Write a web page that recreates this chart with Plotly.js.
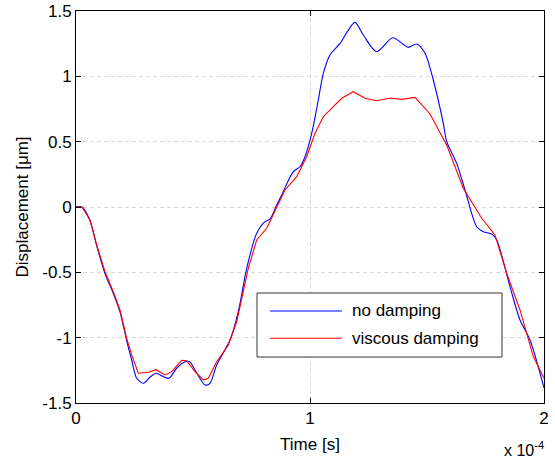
<!DOCTYPE html>
<html>
<head>
<meta charset="utf-8">
<script src="https://cdn.plot.ly/plotly-3.0.1.min.js"></script>
<style>
  html, body { margin: 0; padding: 0; background: #fff; }
  #chart { width: 555px; height: 461px; }
</style>
</head>
<body>
<div id="chart"></div>
<script>
// Time samples in units of 1e-5 s, displacement in micrometres
const tNoDamping = [0, 0.256, 0.598, 0.885, 1.239, 1.594, 1.880, 2.167, 2.380, 2.594, 2.876, 3.162, 3.419, 3.731, 3.974, 4.303, 4.658, 4.872, 5.085, 5.513, 5.726, 6.013, 6.581, 6.936, 7.295, 7.722, 8.077, 8.291, 8.577, 8.791, 9.286, 9.573, 9.786, 10.073, 10.355, 10.568, 10.855, 11.282, 11.637, 11.923, 12.278, 12.850, 13.534, 14.201, 14.560, 14.915, 15.269, 15.697, 15.842, 16.269, 16.624, 17.124, 17.406, 17.765, 17.979, 18.547, 18.974, 19.402, 20.0];
const yNoDamping = [0, 0, -0.103, -0.298, -0.509, -0.662, -0.803, -1.025, -1.171, -1.311, -1.349, -1.303, -1.272, -1.298, -1.311, -1.234, -1.184, -1.186, -1.247, -1.362, -1.349, -1.209, -1.018, -0.801, -0.469, -0.201, -0.112, -0.092, 0.015, 0.092, 0.270, 0.308, 0.385, 0.564, 0.819, 1.023, 1.163, 1.252, 1.354, 1.413, 1.316, 1.188, 1.295, 1.222, 1.247, 1.176, 0.972, 0.640, 0.500, 0.334, 0.130, -0.151, -0.189, -0.207, -0.252, -0.610, -0.865, -1.018, -1.385];

const tViscous = [0, 0.256, 0.598, 0.885, 1.239, 1.594, 1.880, 2.167, 2.380, 2.662, 3.090, 3.419, 3.803, 4.090, 4.517, 4.731, 5.085, 5.440, 5.654, 6.013, 6.509, 6.868, 7.363, 7.722, 8.150, 8.432, 8.932, 9.432, 9.859, 10.214, 10.568, 11.355, 11.850, 12.350, 12.850, 13.419, 13.919, 14.487, 15.128, 15.842, 16.551, 17.338, 17.906, 18.406, 18.974, 19.543, 20.0];
const yViscous = [0, 0, -0.099, -0.291, -0.495, -0.648, -0.788, -1.005, -1.132, -1.272, -1.265, -1.245, -1.285, -1.260, -1.173, -1.176, -1.260, -1.324, -1.311, -1.184, -1.056, -0.878, -0.469, -0.252, -0.163, -0.061, 0.130, 0.232, 0.385, 0.564, 0.691, 0.832, 0.882, 0.832, 0.813, 0.834, 0.824, 0.839, 0.712, 0.474, 0.143, -0.086, -0.214, -0.507, -0.788, -1.145, -1.311];

const seriesNames = ['no damping', 'viscous damping'];
const xTickVals = [0, 1e-4, 2e-4];
const xTickText = ['0', '1', '2'];
const yTickVals = [-1.5, -1, -0.5, 0, 0.5, 1, 1.5];
const yTickText = ['-1.5', '-1', '-0.5', '0', '0.5', '1', '1.5'];

const toSeconds = arr => arr.map(v => v * 1e-5);

const FONT = 'Liberation Sans, Arial, sans-serif';
const FS = 17;
const BLUE = '#0000ff';
const RED = '#ff0000';

const traces = [
  {
    x: toSeconds(tNoDamping), y: yNoDamping, name: seriesNames[0],
    type: 'scatter', mode: 'lines',
    line: { color: BLUE, width: 1.1, shape: 'spline', smoothing: 0.8 }
  },
  {
    x: toSeconds(tViscous), y: yViscous, name: seriesNames[1],
    type: 'scatter', mode: 'lines',
    line: { color: RED, width: 1.1 }
  }
];

// Legend box drawn in paper coordinates
const lg = { x0: 0.3868, x1: 0.9103, y0: 0.1173, y1: 0.2806, lineX0: 0.4145, lineX1: 0.5684, textX: 0.5855, rowY: [0.2347, 0.165] };

const shapes = [
  { type: 'rect', xref: 'paper', yref: 'paper', x0: lg.x0, x1: lg.x1, y0: lg.y0, y1: lg.y1,
    line: { color: '#333', width: 1 }, fillcolor: '#ffffff', layer: 'above' },
  { type: 'line', xref: 'paper', yref: 'paper', x0: lg.lineX0, x1: lg.lineX1, y0: lg.rowY[0], y1: lg.rowY[0],
    line: { color: BLUE, width: 1.1 }, layer: 'above' },
  { type: 'line', xref: 'paper', yref: 'paper', x0: lg.lineX0, x1: lg.lineX1, y0: lg.rowY[1], y1: lg.rowY[1],
    line: { color: RED, width: 1.1 }, layer: 'above' }
];

const annotations = [
  { xref: 'paper', yref: 'paper', x: lg.textX, y: lg.rowY[0], xanchor: 'left', yanchor: 'middle',
    text: seriesNames[0], showarrow: false, font: { family: FONT, size: FS, color: '#000' } },
  { xref: 'paper', yref: 'paper', x: lg.textX, y: lg.rowY[1], xanchor: 'left', yanchor: 'middle',
    text: seriesNames[1], showarrow: false, font: { family: FONT, size: FS, color: '#000' } },
  { xref: 'paper', yref: 'paper', x: 1.005, y: -0.088, xanchor: 'right', yanchor: 'top',
    text: 'x 10<sup>-4</sup>', showarrow: false, font: { family: FONT, size: 16, color: '#000' } }
];

const axisCommon = {
  showline: true, linecolor: '#000', linewidth: 1, mirror: 'ticks',
  ticks: 'inside', ticklen: 5, tickcolor: '#000', tickwidth: 1,
  showgrid: true, gridcolor: '#d8d8d8', gridwidth: 1, griddash: '4px,3px',
  zeroline: false,
  tickfont: { family: FONT, size: FS, color: '#000' }
};

const layout = {
  width: 555, height: 461,
  margin: { l: 76, r: 11, t: 11, b: 58 },
  paper_bgcolor: '#fff', plot_bgcolor: '#fff',
  showlegend: false,
  xaxis: Object.assign({}, axisCommon, {
    range: [0, 2e-4], tickmode: 'array', tickvals: xTickVals, ticktext: xTickText,
    title: { text: 'Time [s]', font: { family: FONT, size: FS, color: '#000' }, standoff: 10 }
  }),
  yaxis: Object.assign({}, axisCommon, {
    range: [-1.5, 1.5], tickmode: 'array', tickvals: yTickVals, ticktext: yTickText,
    title: { text: 'Displacement [\u03bcm]', font: { family: FONT, size: FS, color: '#000' }, standoff: 9 }
  }),
  shapes: shapes,
  annotations: annotations
};

Plotly.newPlot('chart', traces, layout, { staticPlot: true, displayModeBar: false });
</script>
</body>
</html>
